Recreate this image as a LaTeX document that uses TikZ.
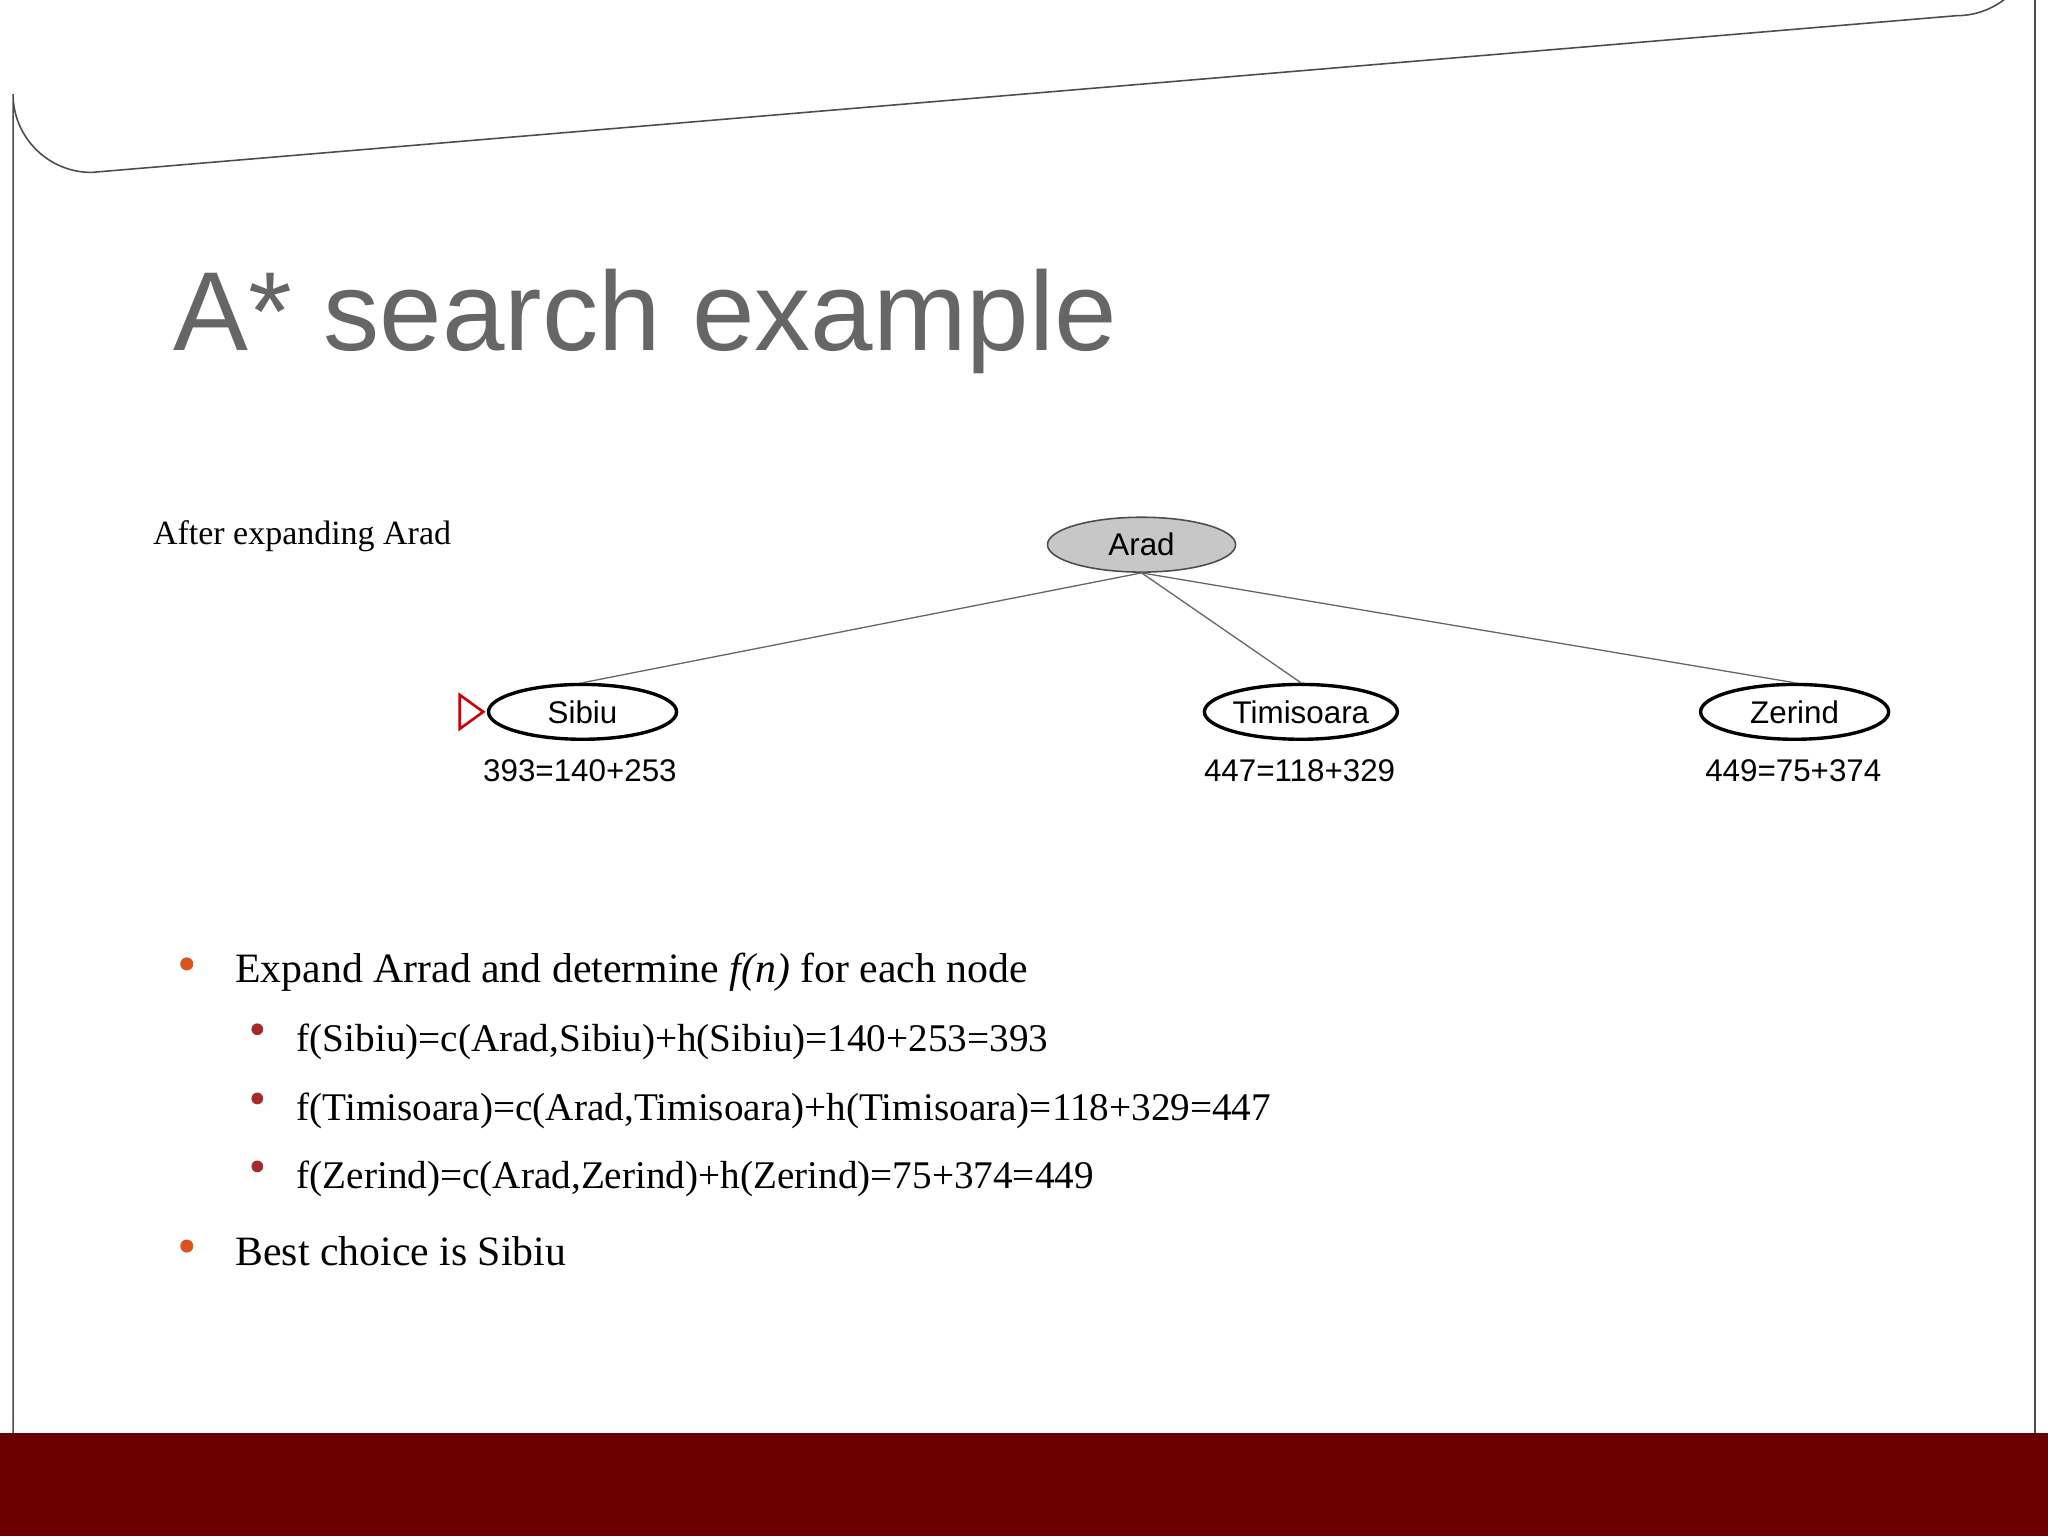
\documentclass[tikz,border=0pt]{standalone}
\usepackage{fontspec}
\setmainfont{Liberation Serif}
\newfontfamily\titlefont{Liberation Sans}
\newfontfamily\graphfont{Liberation Sans}
\usetikzlibrary{shapes.geometric}
\definecolor{band}{HTML}{6B0000}
\definecolor{titlegray}{HTML}{666666}
\definecolor{bul}{HTML}{D9531E}
\definecolor{subbul}{HTML}{A52A2A}
\tikzset{
  city/.style={ellipse,draw=black,line width=2.6pt,minimum width=144pt,minimum height=42pt,inner sep=0pt,font=\graphfont\fontsize{24}{26}\selectfont},
  flab/.style={font=\graphfont\fontsize{24}{26}\selectfont,anchor=center},
  edge/.style={draw=black!60,line width=1pt},
  txt/.style={anchor=base west,inner sep=0pt,font=\fontsize{32}{36}\selectfont},
  stxt/.style={anchor=base west,inner sep=0pt,font=\fontsize{30}{34}\selectfont}
}
\begin{document}
\begin{tikzpicture}[x=1pt,y=-1pt]
\useasboundingbox (0,0) rectangle (1568,1176);
\fill[white] (0,0) rectangle (1568,1176);
\draw[black!70,line width=1.2pt] (10,1100) -- (10,72) arc[start angle=180,end angle=90,radius=60] -- (1498,12) arc[start angle=90,end angle=0,radius=60] -- (1558,1100);
\fill[band] (0,1097) rectangle (1568,1176);
\node[anchor=base west,inner sep=0pt,text=titlegray,font=\titlefont\fontsize{86}{90}\selectfont] (title) at (133,268) {A* search example};
\node[anchor=base west,inner sep=0pt,font=\fontsize{26}{28}\selectfont] (after) at (117,417) {After expanding Arad};
\node[city,fill=black!22,draw=black!70,line width=1.2pt] (arad) at (874,417) {Arad};
\node[city] (sibiu) at (446,545) {Sibiu};
\node[city] (timi) at (996,545) {Timisoara};
\node[city] (zer) at (1374,545) {Zerind};
\node[flab] (ls) at (444,590) {393=140+253};
\node[flab] (lt) at (995,590) {447=118+329};
\node[flab] (lz) at (1373,590) {449=75+374};
\draw[edge] (arad.south) -- (sibiu.north);
\draw[edge] (arad.south) -- (timi.north);
\draw[edge] (arad.south) -- (zer.north);
\coordinate (tri) at (352,545);
\draw[red!80!black,line width=2pt] (tri) ++(0,-13) -- ++(18,13) -- ++(-18,13) -- cycle;
\fill[bul] (143,738) circle (5);
\node[txt] (b1) at (180,752) {Expand Arrad and determine \textit{f(n)} for each node};
\fill[subbul] (197,788) circle (4.5);
\node[stxt] (s1) at (227,805) {f(Sibiu)=c(Arad,Sibiu)+h(Sibiu)=140+253=393};
\fill[subbul] (197,841) circle (4.5);
\node[stxt] (s2) at (227,858) {f(Timisoara)=c(Arad,Timisoara)+h(Timisoara)=118+329=447};
\fill[subbul] (197,893) circle (4.5);
\node[stxt] (s3) at (227,910) {f(Zerind)=c(Arad,Zerind)+h(Zerind)=75+374=449};
\fill[bul] (143,954) circle (5);
\node[txt] (b2) at (180,969) {Best choice is Sibiu};
\end{tikzpicture}
\end{document}
